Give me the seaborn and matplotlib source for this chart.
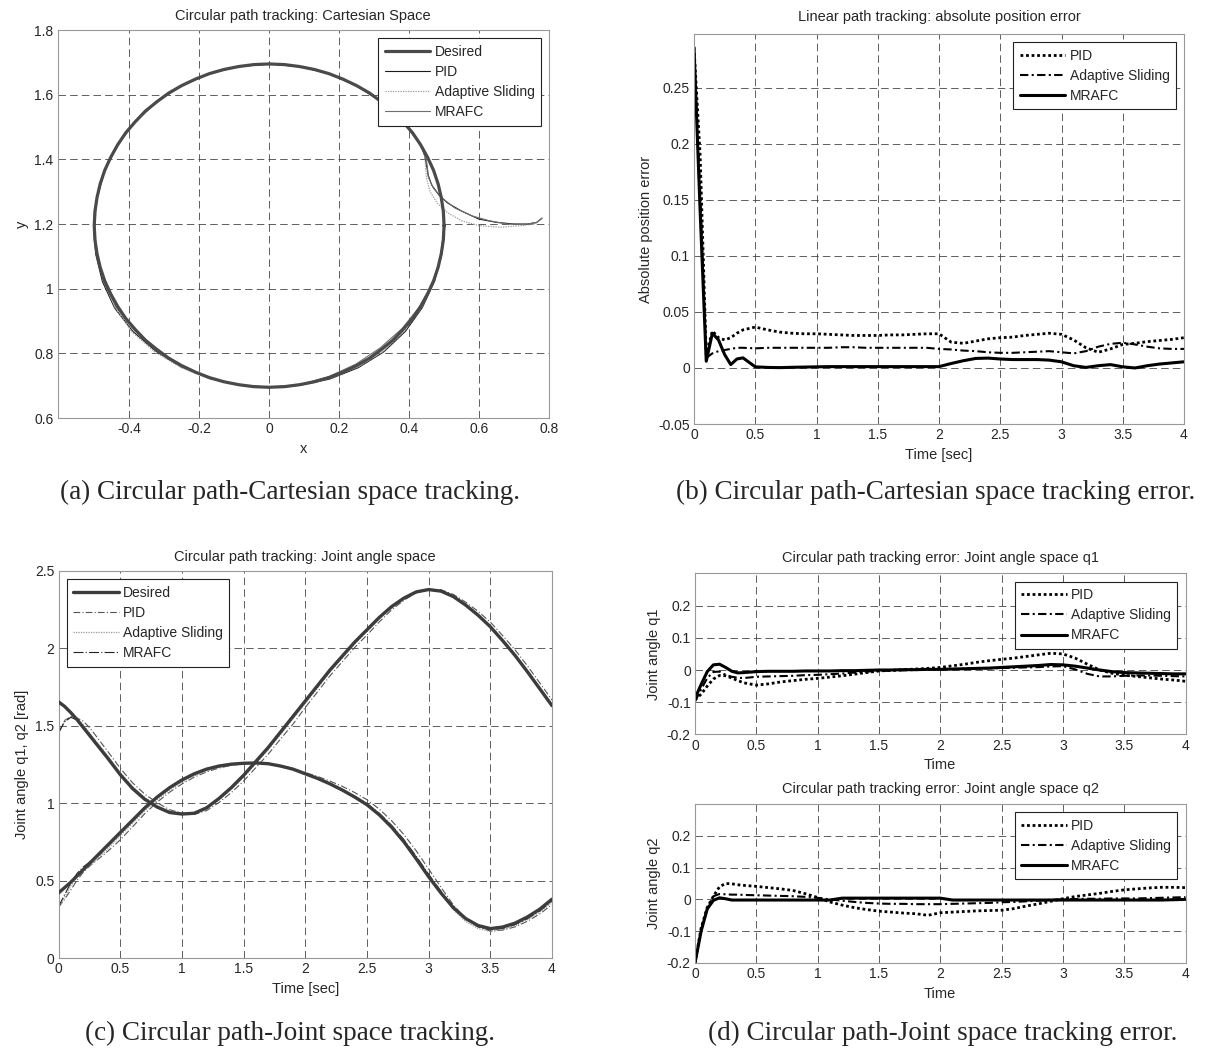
import numpy as np
import matplotlib
matplotlib.use('Agg')
import matplotlib.pyplot as plt
from matplotlib.ticker import FuncFormatter
import seaborn as sns

# ---------------- data ----------------
# (a) desired circular path, points every 5 degrees
circle_x = [0.500, 0.498, 0.492, 0.483, 0.470, 0.453, 0.433, 0.410, 0.383, 0.354,
            0.321, 0.287, 0.250, 0.211, 0.171, 0.129, 0.087, 0.044, 0.000,
            -0.044, -0.087, -0.129, -0.171, -0.211, -0.250, -0.287, -0.321, -0.354,
            -0.383, -0.410, -0.433, -0.453, -0.470, -0.483, -0.492, -0.498, -0.500,
            -0.498, -0.492, -0.483, -0.470, -0.453, -0.433, -0.410, -0.383, -0.354,
            -0.321, -0.287, -0.250, -0.211, -0.171, -0.129, -0.087, -0.044, 0.000,
            0.044, 0.087, 0.129, 0.171, 0.211, 0.250, 0.287, 0.321, 0.354,
            0.383, 0.410, 0.433, 0.453, 0.470, 0.483, 0.492, 0.498, 0.500]
circle_y = [1.195, 1.239, 1.282, 1.324, 1.366, 1.406, 1.445, 1.482, 1.516, 1.549,
            1.578, 1.605, 1.628, 1.648, 1.665, 1.678, 1.687, 1.693, 1.695,
            1.693, 1.687, 1.678, 1.665, 1.648, 1.628, 1.605, 1.578, 1.549,
            1.516, 1.482, 1.445, 1.406, 1.366, 1.324, 1.282, 1.239, 1.195,
            1.151, 1.108, 1.066, 1.024, 0.984, 0.945, 0.908, 0.874, 0.841,
            0.812, 0.785, 0.762, 0.742, 0.725, 0.712, 0.703, 0.697, 0.695,
            0.697, 0.703, 0.712, 0.725, 0.742, 0.762, 0.785, 0.812, 0.841,
            0.874, 0.908, 0.945, 0.984, 1.024, 1.066, 1.108, 1.151, 1.195]
centre_x, centre_y, radius = 0.0, 1.195, 0.5

# approach segments of the tracked paths
pid_start_x = [0.780, 0.765, 0.740, 0.700, 0.650, 0.600, 0.550, 0.510, 0.485, 0.465, 0.455, 0.450, 0.445]
pid_start_y = [1.218, 1.205, 1.200, 1.200, 1.205, 1.215, 1.240, 1.265, 1.290, 1.320, 1.350, 1.380, 1.410]
as_start_x = [0.780, 0.760, 0.720, 0.660, 0.600, 0.550, 0.510, 0.480, 0.460, 0.450, 0.447, 0.445, 0.440]
as_start_y = [1.218, 1.200, 1.195, 1.190, 1.195, 1.210, 1.235, 1.265, 1.300, 1.340, 1.380, 1.410, 1.430]
mr_start_x = [0.780, 0.765, 0.730, 0.680, 0.630, 0.580, 0.530, 0.495, 0.470, 0.455, 0.452, 0.447, 0.440]
mr_start_y = [1.218, 1.205, 1.198, 1.200, 1.210, 1.225, 1.250, 1.280, 1.310, 1.345, 1.380, 1.410, 1.430]

# radial deviation from the circle, every 10 deg from 30 to 360 deg
pid_dev = [0, 0, 0, 0, 0, 0, 0, 0, 0, 0, 0, 0, 0, 0, 0,
           0.002, 0.004, 0.007, 0.010, 0.009, 0.006, 0.004, 0.002, 0.001, 0.001,
           0.002, 0.005, 0.008, 0.010, 0.009, 0.006, 0.003, 0.002, 0.002]
as_dev = [0, 0, 0, 0, 0, 0, 0, 0, 0, 0, 0, 0, 0, 0, 0,
          -0.002, 0.000, 0.004, 0.008, 0.012, 0.010, 0.006, 0.004, 0.002, 0.000,
          0.000, 0.003, 0.006, 0.008, 0.006, 0.004, 0.002, 0.000, 0.000]
mr_dev = [0, 0, 0, 0, 0, 0, 0, 0, 0, 0, 0, 0, 0, 0, 0,
          0.000, 0.002, 0.004, 0.005, 0.004, 0.003, 0.002, 0.001, 0.000, 0.000,
          0.000, -0.003, -0.005, -0.006, -0.004, -0.002, 0.000, 0.000, 0.000]

# time axis shared by (b), (c), (d)
time = [0, 0.05, 0.1, 0.15, 0.2, 0.25, 0.3, 0.35, 0.4,
        0.5, 0.6, 0.7, 0.8, 0.9, 1.0, 1.1, 1.2, 1.3, 1.4, 1.5,
        1.6, 1.7, 1.8, 1.9, 2.0, 2.1, 2.2, 2.3, 2.4, 2.5,
        2.6, 2.7, 2.8, 2.9, 3.0, 3.1, 3.2, 3.3, 3.4, 3.5,
        3.6, 3.7, 3.8, 3.9, 4.0]

# (b) absolute position error
pid_abs = [0.286, 0.19, 0.012, 0.033, 0.027, 0.025, 0.027, 0.031, 0.034,
           0.0365, 0.034, 0.032, 0.031, 0.0305, 0.0305, 0.030, 0.0295, 0.029, 0.029, 0.029,
           0.0295, 0.0295, 0.030, 0.0305, 0.0305, 0.023, 0.022, 0.024, 0.026, 0.027,
           0.0275, 0.029, 0.030, 0.031, 0.030, 0.025, 0.018, 0.014, 0.017, 0.021,
           0.022, 0.0235, 0.0245, 0.0255, 0.027]
as_abs = [0.283, 0.16, 0.009, 0.013, 0.015, 0.016, 0.017, 0.018, 0.018,
          0.0175, 0.018, 0.018, 0.018, 0.018, 0.018, 0.018, 0.0185, 0.0185, 0.018, 0.018,
          0.018, 0.018, 0.018, 0.018, 0.017, 0.0165, 0.0155, 0.015, 0.014, 0.0135,
          0.0135, 0.014, 0.0145, 0.015, 0.014, 0.013, 0.015, 0.019, 0.0215, 0.0225,
          0.021, 0.019, 0.0175, 0.017, 0.017]
mr_abs = [0.286, 0.14, 0.006, 0.031, 0.025, 0.012, 0.003, 0.008, 0.009,
          0.001, 0.0005, 0.0003, 0.0006, 0.0008, 0.001, 0.0012, 0.0012, 0.0012, 0.0012, 0.0012,
          0.0012, 0.0012, 0.0012, 0.0012, 0.0012, 0.004, 0.0065, 0.0085, 0.0088, 0.008,
          0.0075, 0.0075, 0.0075, 0.007, 0.0055, 0.002, 0.0005, 0.002, 0.003, 0.001,
          0.0, 0.002, 0.0035, 0.0045, 0.0055]

# (c) desired joint angles
desired_q1 = [0.42, 0.455, 0.49, 0.53, 0.57, 0.61, 0.65, 0.69, 0.73,
              0.81, 0.89, 0.97, 1.04, 1.10, 1.15, 1.19, 1.22, 1.24, 1.252, 1.258,
              1.26, 1.255, 1.24, 1.22, 1.19, 1.16, 1.125, 1.085, 1.04, 0.99,
              0.925, 0.845, 0.75, 0.64, 0.525, 0.42, 0.325, 0.255, 0.21, 0.19,
              0.2, 0.225, 0.265, 0.315, 0.38]
desired_q2 = [1.655, 1.625, 1.585, 1.54, 1.49, 1.44, 1.39, 1.34, 1.29,
              1.185, 1.095, 1.025, 0.975, 0.94, 0.93, 0.935, 0.97, 1.03, 1.10, 1.18,
              1.27, 1.36, 1.46, 1.56, 1.66, 1.76, 1.86, 1.95, 2.04, 2.12,
              2.20, 2.27, 2.325, 2.365, 2.38, 2.37, 2.335, 2.28, 2.215, 2.14,
              2.05, 1.955, 1.85, 1.74, 1.63]

# (d) joint angle errors
pid_q1 = [-0.093, -0.075, -0.05, -0.028, -0.017, -0.018, -0.025, -0.033, -0.04,
          -0.047, -0.043, -0.037, -0.033, -0.029, -0.026, -0.022, -0.018, -0.013, -0.008, -0.003,
          -0.001, 0.001, 0.003, 0.005, 0.008, 0.013, 0.018, 0.024, 0.029, 0.033,
          0.037, 0.042, 0.047, 0.052, 0.05, 0.037, 0.018, 0.0, -0.01, -0.016,
          -0.02, -0.024, -0.028, -0.031, -0.035]
as_q1 = [-0.098, -0.06, -0.025, -0.006, -0.005, -0.015, -0.021, -0.024, -0.025,
         -0.021, -0.02, -0.019, -0.018, -0.016, -0.015, -0.013, -0.011, -0.008, -0.005, -0.003,
         -0.002, -0.001, 0.0, 0.001, 0.002, 0.003, 0.004, 0.004, 0.005, 0.006,
         0.007, 0.008, 0.009, 0.011, 0.012, 0.002, -0.012, -0.02, -0.02, -0.018,
         -0.017, -0.017, -0.018, -0.019, -0.02]
mr_q1 = [-0.088, -0.045, -0.005, 0.016, 0.018, 0.008, -0.004, -0.009, -0.008,
         -0.005, -0.004, -0.004, -0.004, -0.003, -0.003, -0.003, -0.002, -0.002, -0.001, 0.0,
         0.0, 0.001, 0.001, 0.002, 0.002, 0.003, 0.004, 0.005, 0.006, 0.008,
         0.01, 0.012, 0.014, 0.017, 0.016, 0.012, 0.006, 0.0, -0.005, -0.008,
         -0.009, -0.01, -0.011, -0.012, -0.012]
pid_q2 = [-0.2, -0.09, -0.025, 0.01, 0.04, 0.05, 0.049, 0.046, 0.044,
          0.041, 0.037, 0.033, 0.028, 0.018, 0.006, -0.008, -0.018, -0.026, -0.032, -0.037,
          -0.04, -0.043, -0.045, -0.05, -0.042, -0.04, -0.038, -0.036, -0.035, -0.034,
          -0.029, -0.021, -0.014, -0.006, 0.002, 0.009, 0.014, 0.019, 0.025, 0.03,
          0.033, 0.036, 0.038, 0.038, 0.037]
as_q2 = [-0.2, -0.095, -0.03, 0.01, 0.017, 0.016, 0.015, 0.015, 0.014,
         0.013, 0.012, 0.011, 0.01, 0.008, 0.005, 0.0, -0.004, -0.008, -0.011, -0.013,
         -0.014, -0.014, -0.015, -0.015, -0.015, -0.014, -0.013, -0.012, -0.011, -0.009,
         -0.008, -0.006, -0.004, -0.001, 0.0, 0.001, 0.002, 0.002, 0.003, 0.003,
         0.003, 0.004, 0.005, 0.006, 0.007]
mr_q2 = [-0.2, -0.1, -0.03, -0.003, 0.005, 0.002, -0.002, -0.002, -0.002,
         -0.002, -0.002, -0.002, -0.002, -0.002, -0.002, -0.002, 0.004, 0.004, 0.004, 0.004,
         0.004, 0.004, 0.004, 0.004, 0.004, -0.002, -0.002, -0.002, -0.002, -0.002,
         -0.002, -0.002, -0.002, -0.002, -0.002, -0.002, -0.002, -0.002, -0.002, -0.002,
         -0.002, -0.002, -0.002, -0.001, 0.0]

time_ticks = [0, 0.5, 1, 1.5, 2, 2.5, 3, 3.5, 4]


def track(start_x, start_y, dev):
    # tracked path: approach segment, then every second circle point from 30 deg
    cx = np.array(circle_x[6::2])
    cy = np.array(circle_y[6::2])
    scale = 1 + np.array(dev) / radius
    xs = np.concatenate([start_x, centre_x + (cx - centre_x) * scale])
    ys = np.concatenate([start_y, centre_y + (cy - centre_y) * scale])
    return xs, ys


def matlab_fmt(v, pos):
    s = f'{round(v, 4):g}'
    return '0' if s in ('-0', '0') else s


def style_axes(ax, title, pad):
    ax.set_title(title, fontsize=10.5, pad=pad)
    ax.grid(True, color='#444444', linestyle=(0, (9, 5)), linewidth=0.6)
    ax.set_axisbelow(True)
    for s in ax.spines.values():
        s.set_visible(True)
        s.set_color('#999999')
        s.set_linewidth(0.8)
    ax.tick_params(direction='in', length=3, color='#999999', labelsize=10, pad=3)
    ax.xaxis.set_major_formatter(FuncFormatter(matlab_fmt))
    ax.yaxis.set_major_formatter(FuncFormatter(matlab_fmt))


def add_legend(ax, loc):
    leg = ax.legend(loc=loc, fontsize=10, frameon=True, fancybox=False, framealpha=1,
                    edgecolor='#222222', handlelength=3.3, handletextpad=0.3,
                    borderpad=0.45, labelspacing=0.45, borderaxespad=0.6)
    leg.get_frame().set_linewidth(0.8)


def line(ax, x, y, **kw):
    sns.lineplot(x=x, y=y, ax=ax, sort=False, estimator=None, **kw)


sns.set_style('white')
plt.rcParams['font.family'] = ['Liberation Sans', 'DejaVu Sans']

W, H = 1210, 1058
fig = plt.figure(figsize=(W / 100, H / 100), dpi=100)

ax_a = fig.add_axes([57.5 / W, 1 - 418 / H, 491.5 / W, 388 / H])
ax_b = fig.add_axes([694 / W, 1 - 424 / H, 490 / W, 390 / H])
ax_c = fig.add_axes([58.5 / W, 1 - 958 / H, 493.5 / W, 387 / H])
ax_d1 = fig.add_axes([695 / W, 1 - 734.4 / H, 490.5 / W, 161 / H])
ax_d2 = fig.add_axes([695 / W, 1 - 963 / H, 490.5 / W, 159 / H])

dot = (0, (1, 1))
dashdot = (0, (4, 1.6, 1, 1.6))

# ---- (a) Cartesian space ----
pid_x, pid_y = track(pid_start_x, pid_start_y, pid_dev)
as_x, as_y = track(as_start_x, as_start_y, as_dev)
mr_x, mr_y = track(mr_start_x, mr_start_y, mr_dev)
line(ax_a, circle_x, circle_y, color='#4a4a4a', linewidth=2.3, label='Desired', zorder=3)
line(ax_a, pid_x, pid_y, color='#1a1a1a', linewidth=0.8, label='PID', zorder=2)
line(ax_a, as_x, as_y, color='#9a9a9a', linewidth=0.9, linestyle=dot, label='Adaptive Sliding', zorder=2)
line(ax_a, mr_x, mr_y, color='#6e6e6e', linewidth=0.8, label='MRAFC', zorder=2)
ax_a.set_xlim(-0.605, 0.8)
ax_a.set_ylim(0.6, 1.8)
ax_a.set_xticks([-0.4, -0.2, 0, 0.2, 0.4, 0.6, 0.8])
ax_a.set_yticks([0.6, 0.8, 1, 1.2, 1.4, 1.6, 1.8])
style_axes(ax_a, 'Circular path tracking: Cartesian Space', 7)
ax_a.set_xlabel('x', fontsize=10.5)
ax_a.set_ylabel('y', fontsize=10.5)
add_legend(ax_a, 'upper right')

# ---- (b) absolute position error ----
line(ax_b, time, pid_abs, color='black', linewidth=2.0, linestyle=dot, label='PID')
line(ax_b, time, as_abs, color='black', linewidth=1.5, linestyle=dashdot, label='Adaptive Sliding')
line(ax_b, time, mr_abs, color='black', linewidth=2.2, label='MRAFC')
ax_b.set_xlim(0, 4)
ax_b.set_ylim(-0.05, 0.298)
ax_b.set_xticks(time_ticks)
ax_b.set_yticks([-0.05, 0, 0.05, 0.1, 0.15, 0.2, 0.25])
style_axes(ax_b, 'Linear path tracking: absolute position error', 9)
ax_b.set_xlabel('Time [sec]', fontsize=10.5)
ax_b.set_ylabel('Absolute position error', fontsize=10.5)
add_legend(ax_b, 'upper right')

# ---- (c) joint angle space ----
d1 = np.array(desired_q1)
d2 = np.array(desired_q2)
line(ax_c, time, desired_q1, color='#3c3c3c', linewidth=2.4, label='Desired', zorder=3)
line(ax_c, time, desired_q2, color='#3c3c3c', linewidth=2.4, zorder=3)
line(ax_c, time, d1 + np.array(pid_q1), color='#555555', linewidth=0.8,
     linestyle=(0, (6, 2, 1, 2)), label='PID', zorder=2)
line(ax_c, time, d2 + np.array(pid_q2), color='#555555', linewidth=0.8,
     linestyle=(0, (6, 2, 1, 2)), zorder=2)
line(ax_c, time, d1 + np.array(as_q1), color='#999999', linewidth=0.9,
     linestyle=dot, label='Adaptive Sliding', zorder=2)
line(ax_c, time, d2 + np.array(as_q2), color='#999999', linewidth=0.9, linestyle=dot, zorder=2)
line(ax_c, time, d1 + np.array(mr_q1), color='#222222', linewidth=0.8,
     linestyle=(0, (9, 2, 1, 2)), label='MRAFC', zorder=2)
line(ax_c, time, d2 + np.array(mr_q2), color='#222222', linewidth=0.8,
     linestyle=(0, (9, 2, 1, 2)), zorder=2)
ax_c.set_xlim(0, 4)
ax_c.set_ylim(0, 2.5)
ax_c.set_xticks(time_ticks)
ax_c.set_yticks([0, 0.5, 1, 1.5, 2, 2.5])
style_axes(ax_c, 'Circular path tracking: Joint angle space', 7)
ax_c.set_xlabel('Time [sec]', fontsize=10.5)
ax_c.set_ylabel('Joint angle q1, q2 [rad]', fontsize=10.5)
add_legend(ax_c, 'upper left')

# ---- (d) joint angle errors ----
for ax, p, a, m, name, pad in [(ax_d1, pid_q1, as_q1, mr_q1, 'q1', 8.5),
                               (ax_d2, pid_q2, as_q2, mr_q2, 'q2', 8)]:
    line(ax, time, p, color='black', linewidth=2.0, linestyle=dot, label='PID')
    line(ax, time, a, color='black', linewidth=1.5, linestyle=dashdot, label='Adaptive Sliding')
    line(ax, time, m, color='black', linewidth=2.2, label='MRAFC')
    ax.set_xlim(0, 4)
    ax.set_ylim(-0.2, 0.3)
    ax.set_xticks(time_ticks)
    ax.set_yticks([-0.2, -0.1, 0, 0.1, 0.2])
    style_axes(ax, 'Circular path tracking error: Joint angle space ' + name, pad)
    ax.set_xlabel('Time', fontsize=10.5)
    ax.set_ylabel('Joint angle ' + name, fontsize=10.5)
    add_legend(ax, 'upper right')

# ---- captions ----
serif = ['Liberation Serif', 'DejaVu Serif']
fig.text(290 / W, 1 - 492 / H, '(a) Circular path-Cartesian space tracking.',
         ha='center', va='center', fontsize=19.5, family=serif)
fig.text(936 / W, 1 - 492 / H, '(b) Circular path-Cartesian space tracking error.',
         ha='center', va='center', fontsize=19.5, family=serif)
fig.text(290 / W, 1 - 1033 / H, '(c) Circular path-Joint space tracking.',
         ha='center', va='center', fontsize=19.5, family=serif)
fig.text(943 / W, 1 - 1033 / H, '(d) Circular path-Joint space tracking error.',
         ha='center', va='center', fontsize=19.5, family=serif)

fig.savefig('out.png', dpi=100, facecolor='white')
